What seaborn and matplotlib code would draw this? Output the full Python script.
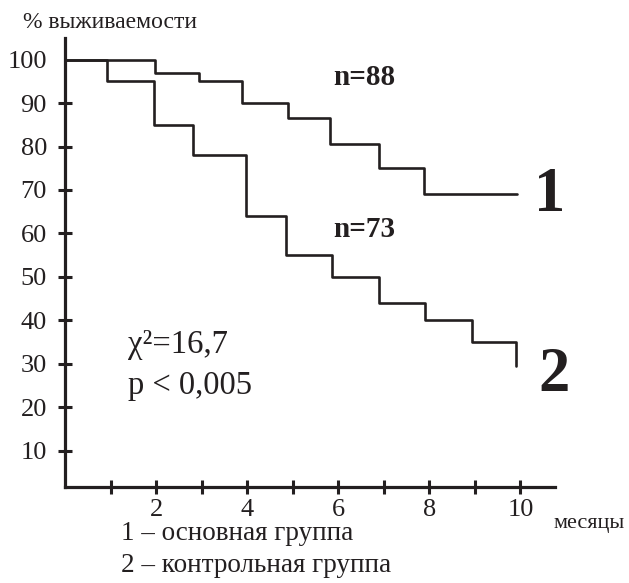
import pandas as pd
import matplotlib.pyplot as plt
import seaborn as sns

# survival curves (months vs % survival)
months_1 = [0, 1.98, 2.95, 3.89, 4.9, 5.82, 6.9, 7.89, 9.93]
surv_1 = [100, 97, 95, 90, 86.5, 80.5, 75, 69, 69]
months_2 = [0, 0.92, 1.95, 2.8, 3.98, 4.85, 5.87, 6.9, 7.9, 8.94, 9.9]
surv_2 = [100, 95, 85, 78, 64, 55, 50, 44, 40, 35, 29.5]

x_ticks = [1, 2, 3, 4, 5, 6, 7, 8, 9, 10]
x_labels = ['', '2', '', '4', '', '6', '', '8', '', '10']
y_ticks = [10, 20, 30, 40, 50, 60, 70, 80, 90, 100]

df = pd.concat([
    pd.DataFrame({'month': months_1, 'surv': surv_1, 'group': '1'}),
    pd.DataFrame({'month': months_2, 'surv': surv_2, 'group': '2'}),
])

sns.set_style('ticks')
plt.rcParams['font.family'] = ['Liberation Serif', 'DejaVu Serif']
plt.rcParams['text.color'] = '#231f20'

W, H = 629, 583
fig = plt.figure(figsize=(W / 100, H / 100), dpi=100)
ax = fig.add_axes([65 / W, 1 - 487 / H, (555 - 65) / W, (487 - 38) / H])

sns.lineplot(data=df, x='month', y='surv', hue='group', palette=['#231f20', '#231f20'],
             drawstyle='steps-post', linewidth=1.9, errorbar=None, legend=False, ax=ax)

ax.set_xlim(0, 10.76)
ax.set_ylim(1.6, 105)
ax.set_xticks(x_ticks)
ax.set_xticklabels(x_labels)
ax.set_yticks(y_ticks)
ax.set_xlabel('')
ax.set_ylabel('')
sns.despine(ax=ax)
for s in ['left', 'bottom']:
    ax.spines[s].set_linewidth(2.3)
    ax.spines[s].set_color('#231f20')
ax.tick_params(direction='inout', length=10, width=2.2, colors='#231f20', labelsize=19)
ax.tick_params(axis='y', pad=8)
ax.tick_params(axis='x', pad=4)
ax.yaxis.get_major_ticks()[-1].tick1line.set_visible(False)

# annotations inside the plot
ax.text(5.89, 94.2, 'n=88', fontsize=21, fontweight='bold', va='baseline')
ax.text(5.89, 59.2, 'n=73', fontsize=21, fontweight='bold', va='baseline')
ax.text(10.3, 65.2, '1', fontsize=45, fontweight='bold', va='baseline')
ax.text(10.4, 23.7, '2', fontsize=45, fontweight='bold', va='baseline')
ax.text(1.39, 32.5, 'χ²=16,7', fontsize=23.5, va='baseline')
ax.text(1.39, 23.0, 'p < 0,005', fontsize=23.5, va='baseline')

# texts outside the axes
fig.text(23 / W, 1 - 28 / H, '% выживаемости', fontsize=17, va='baseline')
fig.text(553 / W, 1 - 528 / H, 'месяцы', fontsize=16, va='baseline')
fig.text(121 / W, 1 - 540 / H, '1 – основная группа', fontsize=19.5, va='baseline')
fig.text(121 / W, 1 - 572 / H, '2 – контрольная группа', fontsize=19.5, va='baseline')

plt.savefig('out.png', dpi=100)
